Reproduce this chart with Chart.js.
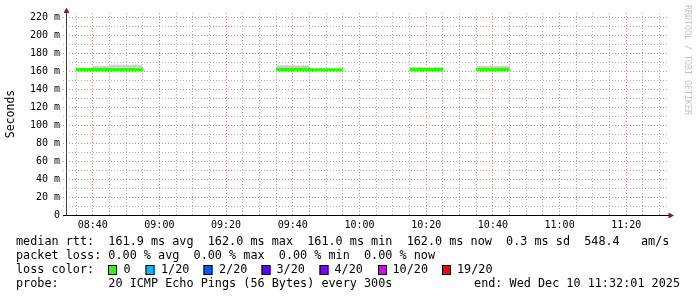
<!DOCTYPE html>
<html>
<head>
<meta charset="utf-8">
<script src="https://cdn.jsdelivr.net/npm/chart.js@4.4.1/dist/chart.umd.min.js"></script>
<style>
html, body { margin: 0; padding: 0; background: #fff; }
#wrap { width: 697px; height: 297px; position: relative; }
</style>
</head>
<body>
<div id="wrap"><canvas id="chart"></canvas></div>
<script>
// 5 minute rrd steps that carry data (start of step)
var slotStart    = ['08:35','08:40','08:45','08:50','09:35','09:40','09:45','09:50','10:15','10:20','10:35','10:40'];
var medianMs     = [162.0, 162.0, 162.0, 162.0, 162.0, 162.0, 161.9, 161.9, 162.0, 162.0, 162.0, 162.0];
var smokeMin     = [161.2, 161.0, 161.3, 161.3, 161.2, 161.2, 161.4, 161.4, 161.3, 161.3, 161.3, 161.3];
var smokeMax     = [164.2, 166.4, 167.6, 167.6, 167.1, 167.1, 163.0, 163.0, 164.9, 164.9, 166.3, 166.3];
var smokeInnerLo = [162.5, 163.4, 164.6, 164.6, 163.8, 163.8, 162.3, 162.3, 163.2, 163.2, 163.8, 163.8];
var smokeInnerHi = [163.4, 165.0, 166.3, 166.3, 165.6, 165.6, 162.8, 162.8, 164.4, 164.4, 165.4, 165.4];

var xStart = '08:32', xEnd = '11:32';
var xTickLabels = ['08:40','09:00','09:20','09:40','10:00','10:20','10:40','11:00','11:20'];
var yTickLabels = ['0','20 m','40 m','60 m','80 m','100 m','120 m','140 m','160 m','180 m','200 m','220 m'];

var lossLabels = ['0','1/20','2/20','3/20','4/20','10/20','19/20'];
var lossColors = ['#26ff00','#00b8ff','#0059ff','#5e00ff','#7e00ff','#dd00ff','#ff0000'];

var legendRtt  = 'median rtt:  161.9 ms avg  162.0 ms max  161.0 ms min  162.0 ms now  0.3 ms sd  548.4   am/s';
var legendLoss = 'packet loss: 0.00 % avg  0.00 % max  0.00 % min  0.00 % now';
var legendProbe = 'probe:       20 ICMP Echo Pings (56 Bytes) every 300s';
var legendEnd  = 'end: Wed Dec 10 11:32:01 2025';

function mins(s) { var p = s.split(':'); return +p[0] * 60 + +p[1]; }
function hhmm(m) { var h = Math.floor(m / 60), mm = m % 60; return (h < 10 ? '0' : '') + h + ':' + (mm < 10 ? '0' : '') + mm; }

// turn steps into flat pieces, broken where steps are missing
function steps(vals) {
  var out = [];
  for (var i = 0; i < slotStart.length; i++) {
    var t = mins(slotStart[i]);
    out.push({x: t, y: vals[i]});
    out.push({x: t + 5, y: vals[i]});
    if (i == slotStart.length - 1 || mins(slotStart[i + 1]) != t + 5) out.push({x: t + 5.01, y: null});
  }
  return out;
}

var MONO = '"DejaVu Sans Mono", monospace';
var MGRID = 'rgba(222,79,79,0.7)';
var GRID = 'rgba(143,143,143,0.7)';

var rrdDecor = {
  id: 'rrdDecor',
  afterDraw: function(chart) {
    var c = chart.ctx;
    c.save();
    // axes
    c.strokeStyle = '#404040'; c.lineWidth = 1;
    c.beginPath(); c.moveTo(66.5, 12); c.lineTo(66.5, 216); c.stroke();
    c.strokeStyle = '#000';
    c.beginPath(); c.moveTo(63, 215.5); c.lineTo(669, 215.5); c.stroke();
    // arrows
    c.fillStyle = '#802020';
    c.beginPath(); c.moveTo(66.5, 7.5); c.lineTo(69.5, 13); c.lineTo(63.5, 13); c.closePath(); c.fill();
    c.beginPath(); c.moveTo(674, 215.5); c.lineTo(668.5, 212.5); c.lineTo(668.5, 218.5); c.closePath(); c.fill();

    // watermark
    c.save();
    c.translate(685, 5); c.rotate(Math.PI / 2);
    c.fillStyle = '#c4c4c4'; c.font = '8.3px ' + MONO; c.textBaseline = 'alphabetic';
    c.fillText('RRDTOOL / TOBI OETIKER', 0, 0);
    c.restore();

    // legend
    c.fillStyle = '#000'; c.font = '11.8px ' + MONO; c.textBaseline = 'middle';
    c.fillText(legendRtt, 16, 242);
    c.fillText(legendLoss, 16, 256);
    c.fillText('loss color:', 16, 270);
    var boxX = [108, 145.5, 203.5, 261.5, 319.5, 378, 442];
    var txtX = [123.5, 161, 219, 276.5, 334.5, 392.5, 457];
    for (var i = 0; i < lossLabels.length; i++) {
      c.fillStyle = lossColors[i];
      c.fillRect(boxX[i], 265, 9, 10);
      c.strokeStyle = '#000';
      c.strokeRect(boxX[i] + 0.5, 265.5, 8, 9);
      c.fillStyle = '#000';
      c.fillText(lossLabels[i], txtX[i], 270);
    }
    c.fillText(legendProbe, 16, 284);
    c.textAlign = 'right';
    c.fillText(legendEnd, 680, 284);
    c.restore();
  }
};

new Chart(document.getElementById('chart'), {
  type: 'line',
  data: {
    datasets: [
      { label: 'median', data: steps(medianMs), borderColor: '#26ff00', borderWidth: 3,
        borderCapStyle: 'butt', pointRadius: 0, fill: false, order: 0 },
      { label: 'smoke min', data: steps(smokeMin), borderColor: 'transparent', borderWidth: 1,
        pointRadius: 0, fill: false, order: 3 },
      { label: 'smoke', data: steps(smokeMax), borderColor: 'transparent', borderWidth: 1,
        backgroundColor: '#dcdcdc', pointRadius: 0, fill: 1, order: 2 },
      { label: 'smoke inner lo', data: steps(smokeInnerLo), borderColor: 'transparent', borderWidth: 1,
        pointRadius: 0, fill: false, order: 3 },
      { label: 'smoke inner', data: steps(smokeInnerHi), borderColor: 'transparent', borderWidth: 1,
        backgroundColor: '#c8c8c8', pointRadius: 0, fill: 3, order: 1 }
    ]
  },
  options: {
    responsive: true,
    maintainAspectRatio: false,
    animation: false,
    spanGaps: false,
    layout: { padding: { left: 0, right: 29, top: 13, bottom: 0 } },
    plugins: { legend: { display: false }, tooltip: { enabled: false } },
    scales: {
      x: {
        type: 'linear',
        min: mins(xStart),
        max: mins(xEnd) + 0.5,
        afterBuildTicks: function(s) {
          var t = [];
          for (var m = mins(xStart) + 3; m <= mins(xEnd); m += 5) t.push({value: m});
          s.ticks = t;
        },
        afterFit: function(s) { s.height = 82; },
        border: { display: false, dash: [1, 2] },
        grid: {
          drawTicks: false,
          color: function(ctx) { return ctx.tick && xTickLabels.indexOf(hhmm(ctx.tick.value)) >= 0 ? MGRID : GRID; }
        },
        ticks: {
          autoSkip: false, maxRotation: 0, padding: 4, color: '#000',
          font: { family: MONO, size: 10 },
          callback: function(v) { var l = hhmm(v); return xTickLabels.indexOf(l) >= 0 ? l : ''; }
        }
      },
      y: {
        min: 0,
        max: 225,
        afterBuildTicks: function(s) {
          var t = [];
          for (var v = 0; v <= 220; v += 10) t.push({value: v});
          s.ticks = t;
        },
        afterFit: function(s) { s.width = 66; },
        border: { display: false, dash: [1, 2] },
        grid: {
          tickLength: 3,
          tickBorderDash: [1, 2],
          color: function(ctx) { return ctx.tick && ctx.tick.value % 20 == 0 ? MGRID : GRID; }
        },
        ticks: {
          autoSkip: false, padding: 3, color: '#000',
          font: { family: MONO, size: 10 },
          callback: function(v) { return v % 20 == 0 ? yTickLabels[v / 20] : ''; }
        },
        title: {
          display: true, text: 'Seconds', color: '#000',
          font: { family: MONO, size: 11.5 }, padding: { top: 4, bottom: 0 }
        }
      }
    }
  },
  plugins: [rrdDecor]
});
</script>
</body>
</html>
